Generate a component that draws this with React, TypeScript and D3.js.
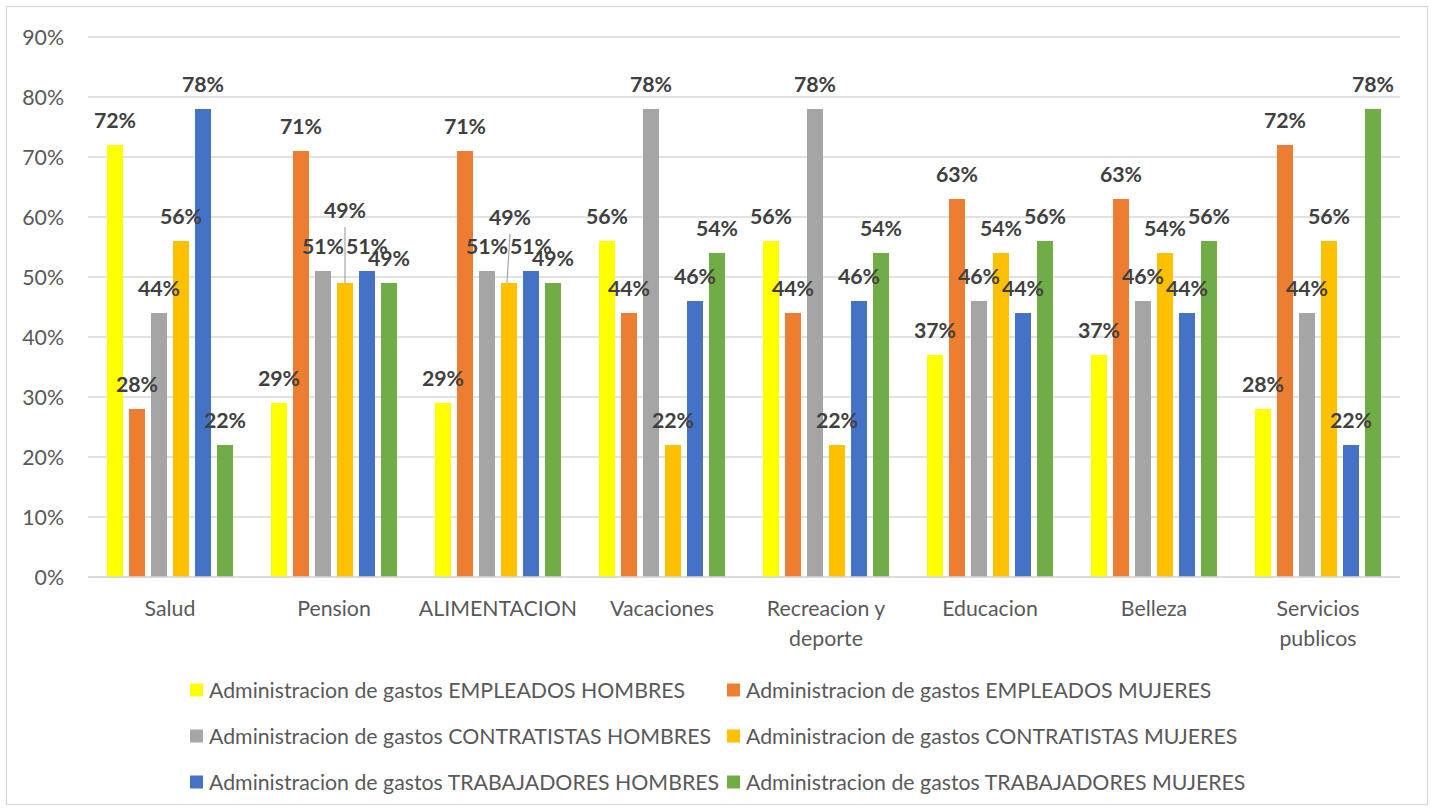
import React from "react";
import * as d3 from "d3";

const categories = ["Salud", "Pension", "ALIMENTACION", "Vacaciones", "Recreacion y deporte", "Educacion", "Belleza", "Servicios publicos"];
const seriesNames = [
  "Administracion de gastos EMPLEADOS HOMBRES",
  "Administracion de gastos EMPLEADOS MUJERES",
  "Administracion de gastos CONTRATISTAS HOMBRES",
  "Administracion de gastos CONTRATISTAS MUJERES",
  "Administracion de gastos TRABAJADORES HOMBRES",
  "Administracion de gastos TRABAJADORES MUJERES",
];
const empleadosHombres = [0.72, 0.29, 0.29, 0.56, 0.56, 0.37, 0.37, 0.28];
const empleadosMujeres = [0.28, 0.71, 0.71, 0.44, 0.44, 0.63, 0.63, 0.72];
const contratistasHombres = [0.44, 0.51, 0.51, 0.78, 0.78, 0.46, 0.46, 0.44];
const contratistasMujeres = [0.56, 0.49, 0.49, 0.22, 0.22, 0.54, 0.54, 0.56];
const trabajadoresHombres = [0.78, 0.51, 0.51, 0.46, 0.46, 0.44, 0.44, 0.22];
const trabajadoresMujeres = [0.22, 0.49, 0.49, 0.54, 0.54, 0.56, 0.56, 0.78];
const yTicks = [0, 0.1, 0.2, 0.3, 0.4, 0.5, 0.6, 0.7, 0.8, 0.9];

const seriesValues = [empleadosHombres, empleadosMujeres, contratistasHombres, contratistasMujeres, trabajadoresHombres, trabajadoresMujeres];
const colors = ["#FFFF00", "#ED7D31", "#A5A5A5", "#FFC000", "#4472C4", "#70AD47"];

// manually moved data labels (with leader lines), as in the reference
const labelMoves: { cat: number; s: number; dx: number; dy: number }[] = [
  { cat: 1, s: 3, dx: 0, dy: -48 },
  { cat: 2, s: 3, dx: 1, dy: -41 },
];

const FONT = "Lato, 'Open Sans', sans-serif";
const FS = 21.3;

function wrap(label: string): string[] {
  if (label.length <= 14) return [label];
  const i = label.lastIndexOf(" ");
  return [label.slice(0, i), label.slice(i + 1)];
}

export default function App() {
  const x0 = d3.scaleBand<string>().domain(categories).range([88, 1400]).padding(0);
  const x1 = d3.scaleBand<number>().domain(d3.range(6)).range([19, 145]).paddingInner(0.273).paddingOuter(0);
  const y = d3.scaleLinear().domain([0, 0.9]).range([577, 37]);
  const fmt = d3.format(".0%");

  const legendCols = [190, 727];
  const legendRows = [690, 736, 782];

  return (
    <svg width={1435} height={810} style={{ position: "absolute", left: 0, top: 0 }} fontFamily={FONT}>
      <rect x={0} y={0} width={1435} height={810} fill="#fff" />
      <rect x={6.5} y={6.5} width={1421} height={798} fill="#fff" stroke="#D9D9D9" strokeWidth={1.3} />
      {yTicks.map((t) => (
        <g key={t}>
          <line x1={88} x2={1400} y1={y(t)} y2={y(t)} stroke="#D9D9D9" strokeWidth={1.3} />
          <text x={64} y={y(t)} textAnchor="end" dominantBaseline="central" fontSize={FS} fill="#595959">
            {fmt(t)}
          </text>
        </g>
      ))}
      {categories.map((c, ci) => (
        <g key={c} transform={`translate(${x0(c)},0)`}>
          {seriesValues.map((vals, si) => (
            <rect key={si} x={x1(si)} y={y(vals[ci])} width={x1.bandwidth()} height={y(0) - y(vals[ci])} fill={colors[si]} />
          ))}
          <text x={x0.bandwidth() / 2} y={608} textAnchor="middle" fontSize={FS} fill="#595959">
            {wrap(c).map((line, li) => (
              <tspan key={li} x={x0.bandwidth() / 2} dy={li === 0 ? 0 : 30} dominantBaseline="central">
                {line}
              </tspan>
            ))}
          </text>
        </g>
      ))}
      <line x1={88} x2={1400} y1={y(0)} y2={y(0)} stroke="#D9D9D9" strokeWidth={1.5} />
      {categories.map((c, ci) =>
        seriesValues.map((vals, si) => {
          const cx = (x0(c) as number) + (x1(si) as number) + x1.bandwidth() / 2;
          const top = y(vals[ci]);
          const mv = labelMoves.find((m) => m.cat === ci && m.s === si);
          const lx = cx + (mv ? mv.dx : 0);
          const ly = top - 25 + (mv ? mv.dy : 0);
          return (
            <g key={`${ci}-${si}`}>
              {mv && <line x1={lx} y1={ly + 17} x2={cx - mv.dx * 2} y2={top} stroke="#A6A6A6" strokeWidth={1.2} />}
              <text x={lx} y={ly} textAnchor="middle" dominantBaseline="central" fontSize={FS} fontWeight="bold" fill="#404040">
                {fmt(vals[ci])}
              </text>
            </g>
          );
        })
      )}
      {seriesNames.map((name, i) => {
        const lx = legendCols[i % 2];
        const ly = legendRows[Math.floor(i / 2)];
        return (
          <g key={name}>
            <rect x={lx} y={ly - 6.5} width={13} height={13} fill={colors[i]} />
            <text x={lx + 19} y={ly} dominantBaseline="central" fontSize={FS} fill="#595959">
              {name}
            </text>
          </g>
        );
      })}
    </svg>
  );
}
